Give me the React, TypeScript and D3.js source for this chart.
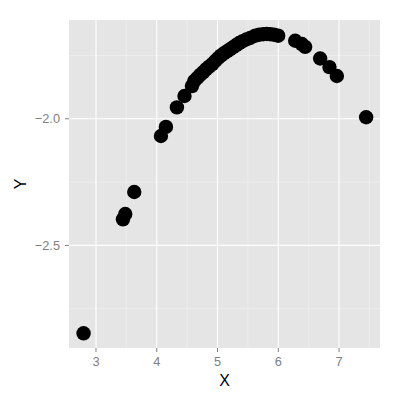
import React from 'react';
import * as d3 from 'd3';

const WIDTH = 400;
const HEIGHT = 400;

const MARGIN = {
  top: 20,
  right: 20,
  bottom: 52,
  left: 69,
};

// points
const X_VALUES = [
  2.796, 3.444, 3.482, 3.63, 4.069, 4.151, 4.332, 4.457, 4.579,
  4.617, 4.666, 4.715, 4.765, 4.814, 4.863, 4.913, 4.962, 5.012,
  5.061, 5.11, 5.16, 5.209, 5.258, 5.308, 5.357, 5.406, 5.472, 5.538,
  5.62, 5.686, 5.752, 5.81, 5.867, 5.93, 5.998,
  6.279, 6.388, 6.442, 6.689, 6.842, 6.964, 7.446,
];
const Y_VALUES = [
  -2.847, -2.397, -2.376, -2.289, -2.068, -2.032, -1.955, -1.91, -1.871,
  -1.851, -1.839, -1.827, -1.816, -1.804, -1.794, -1.784, -1.772, -1.76,
  -1.75, -1.741, -1.733, -1.725, -1.717, -1.709, -1.701, -1.695, -1.687, -1.681,
  -1.672, -1.668, -1.666, -1.665, -1.666, -1.668, -1.672,
  -1.692, -1.705, -1.716, -1.762, -1.796, -1.831, -1.994,
];

const X_TICKS = [3, 4, 5, 6, 7];
const X_MINOR = [3.5, 4.5, 5.5, 6.5, 7.5];
const Y_TICKS = [-2.5, -2.0];
const Y_MINOR = [-2.75, -2.25, -1.75];

const X_DOMAIN = [2.556, 7.674];
const Y_DOMAIN = [-2.905, -1.61];

export default function App() {
  const x = d3.scaleLinear()
    .domain(X_DOMAIN)
    .range([MARGIN.left, WIDTH - MARGIN.right]);

  const y = d3.scaleLinear()
    .domain(Y_DOMAIN)
    .range([HEIGHT - MARGIN.bottom, MARGIN.top]);

  const points = X_VALUES.map((v, i) => ({ x: v, y: Y_VALUES[i] }));
  const fmt = d3.format('.1f');
  const panelBottom = HEIGHT - MARGIN.bottom;
  const panelRight = WIDTH - MARGIN.right;
  const font = '"Liberation Sans", Arial, sans-serif';

  return (
    <svg
      width={WIDTH}
      height={HEIGHT}
      style={{ position: 'absolute', left: 0, top: 0, background: '#fff' }}
      fontFamily={font}
    >
      <rect
        x={MARGIN.left}
        y={MARGIN.top}
        width={panelRight - MARGIN.left}
        height={panelBottom - MARGIN.top}
        fill="#e5e5e5"
      />

      {/* minor grid */}
      {X_MINOR.map(t => (
        <line key={'xm' + t} x1={x(t)} x2={x(t)} y1={MARGIN.top} y2={panelBottom}
          stroke="#f2f2f2" strokeWidth={0.6} />
      ))}
      {Y_MINOR.map(t => (
        <line key={'ym' + t} x1={MARGIN.left} x2={panelRight} y1={y(t)} y2={y(t)}
          stroke="#f2f2f2" strokeWidth={0.6} />
      ))}

      {/* major grid */}
      {X_TICKS.map(t => (
        <line key={'xg' + t} x1={x(t)} x2={x(t)} y1={MARGIN.top} y2={panelBottom}
          stroke="#fff" strokeWidth={1.1} />
      ))}
      {Y_TICKS.map(t => (
        <line key={'yg' + t} x1={MARGIN.left} x2={panelRight} y1={y(t)} y2={y(t)}
          stroke="#fff" strokeWidth={1.1} />
      ))}

      {points.map((d, i) => (
        <circle key={i} cx={x(d.x)} cy={y(d.y)} r={7.2} fill="#000" />
      ))}

      {/* x axis */}
      {X_TICKS.map(t => (
        <g key={'xt' + t} transform={`translate(${x(t)},${panelBottom})`}>
          <line y1={0} y2={4} stroke="#7f7f7f" strokeWidth={1} />
          <text y={18} textAnchor="middle" fontSize={12.8} fill="#7f7f7f">{t}</text>
        </g>
      ))}

      {/* y axis */}
      {Y_TICKS.map(t => (
        <g key={'yt' + t} transform={`translate(${MARGIN.left},${y(t)})`}>
          <line x1={-4} x2={0} stroke="#7f7f7f" strokeWidth={1} />
          <text x={-9} dy="0.35em" textAnchor="end" fontSize={12.8} fill="#7f7f7f">
            {fmt(t).replace('-', '\u2212')}
          </text>
        </g>
      ))}

      <text
        x={(MARGIN.left + panelRight) / 2}
        y={386}
        textAnchor="middle"
        fontSize={16}
        fill="#000"
      >
        X
      </text>
      <text
        transform={`translate(26,${(MARGIN.top + panelBottom) / 2}) rotate(-90)`}
        textAnchor="middle"
        fontSize={16}
        fill="#000"
      >
        Y
      </text>
    </svg>
  );
}
